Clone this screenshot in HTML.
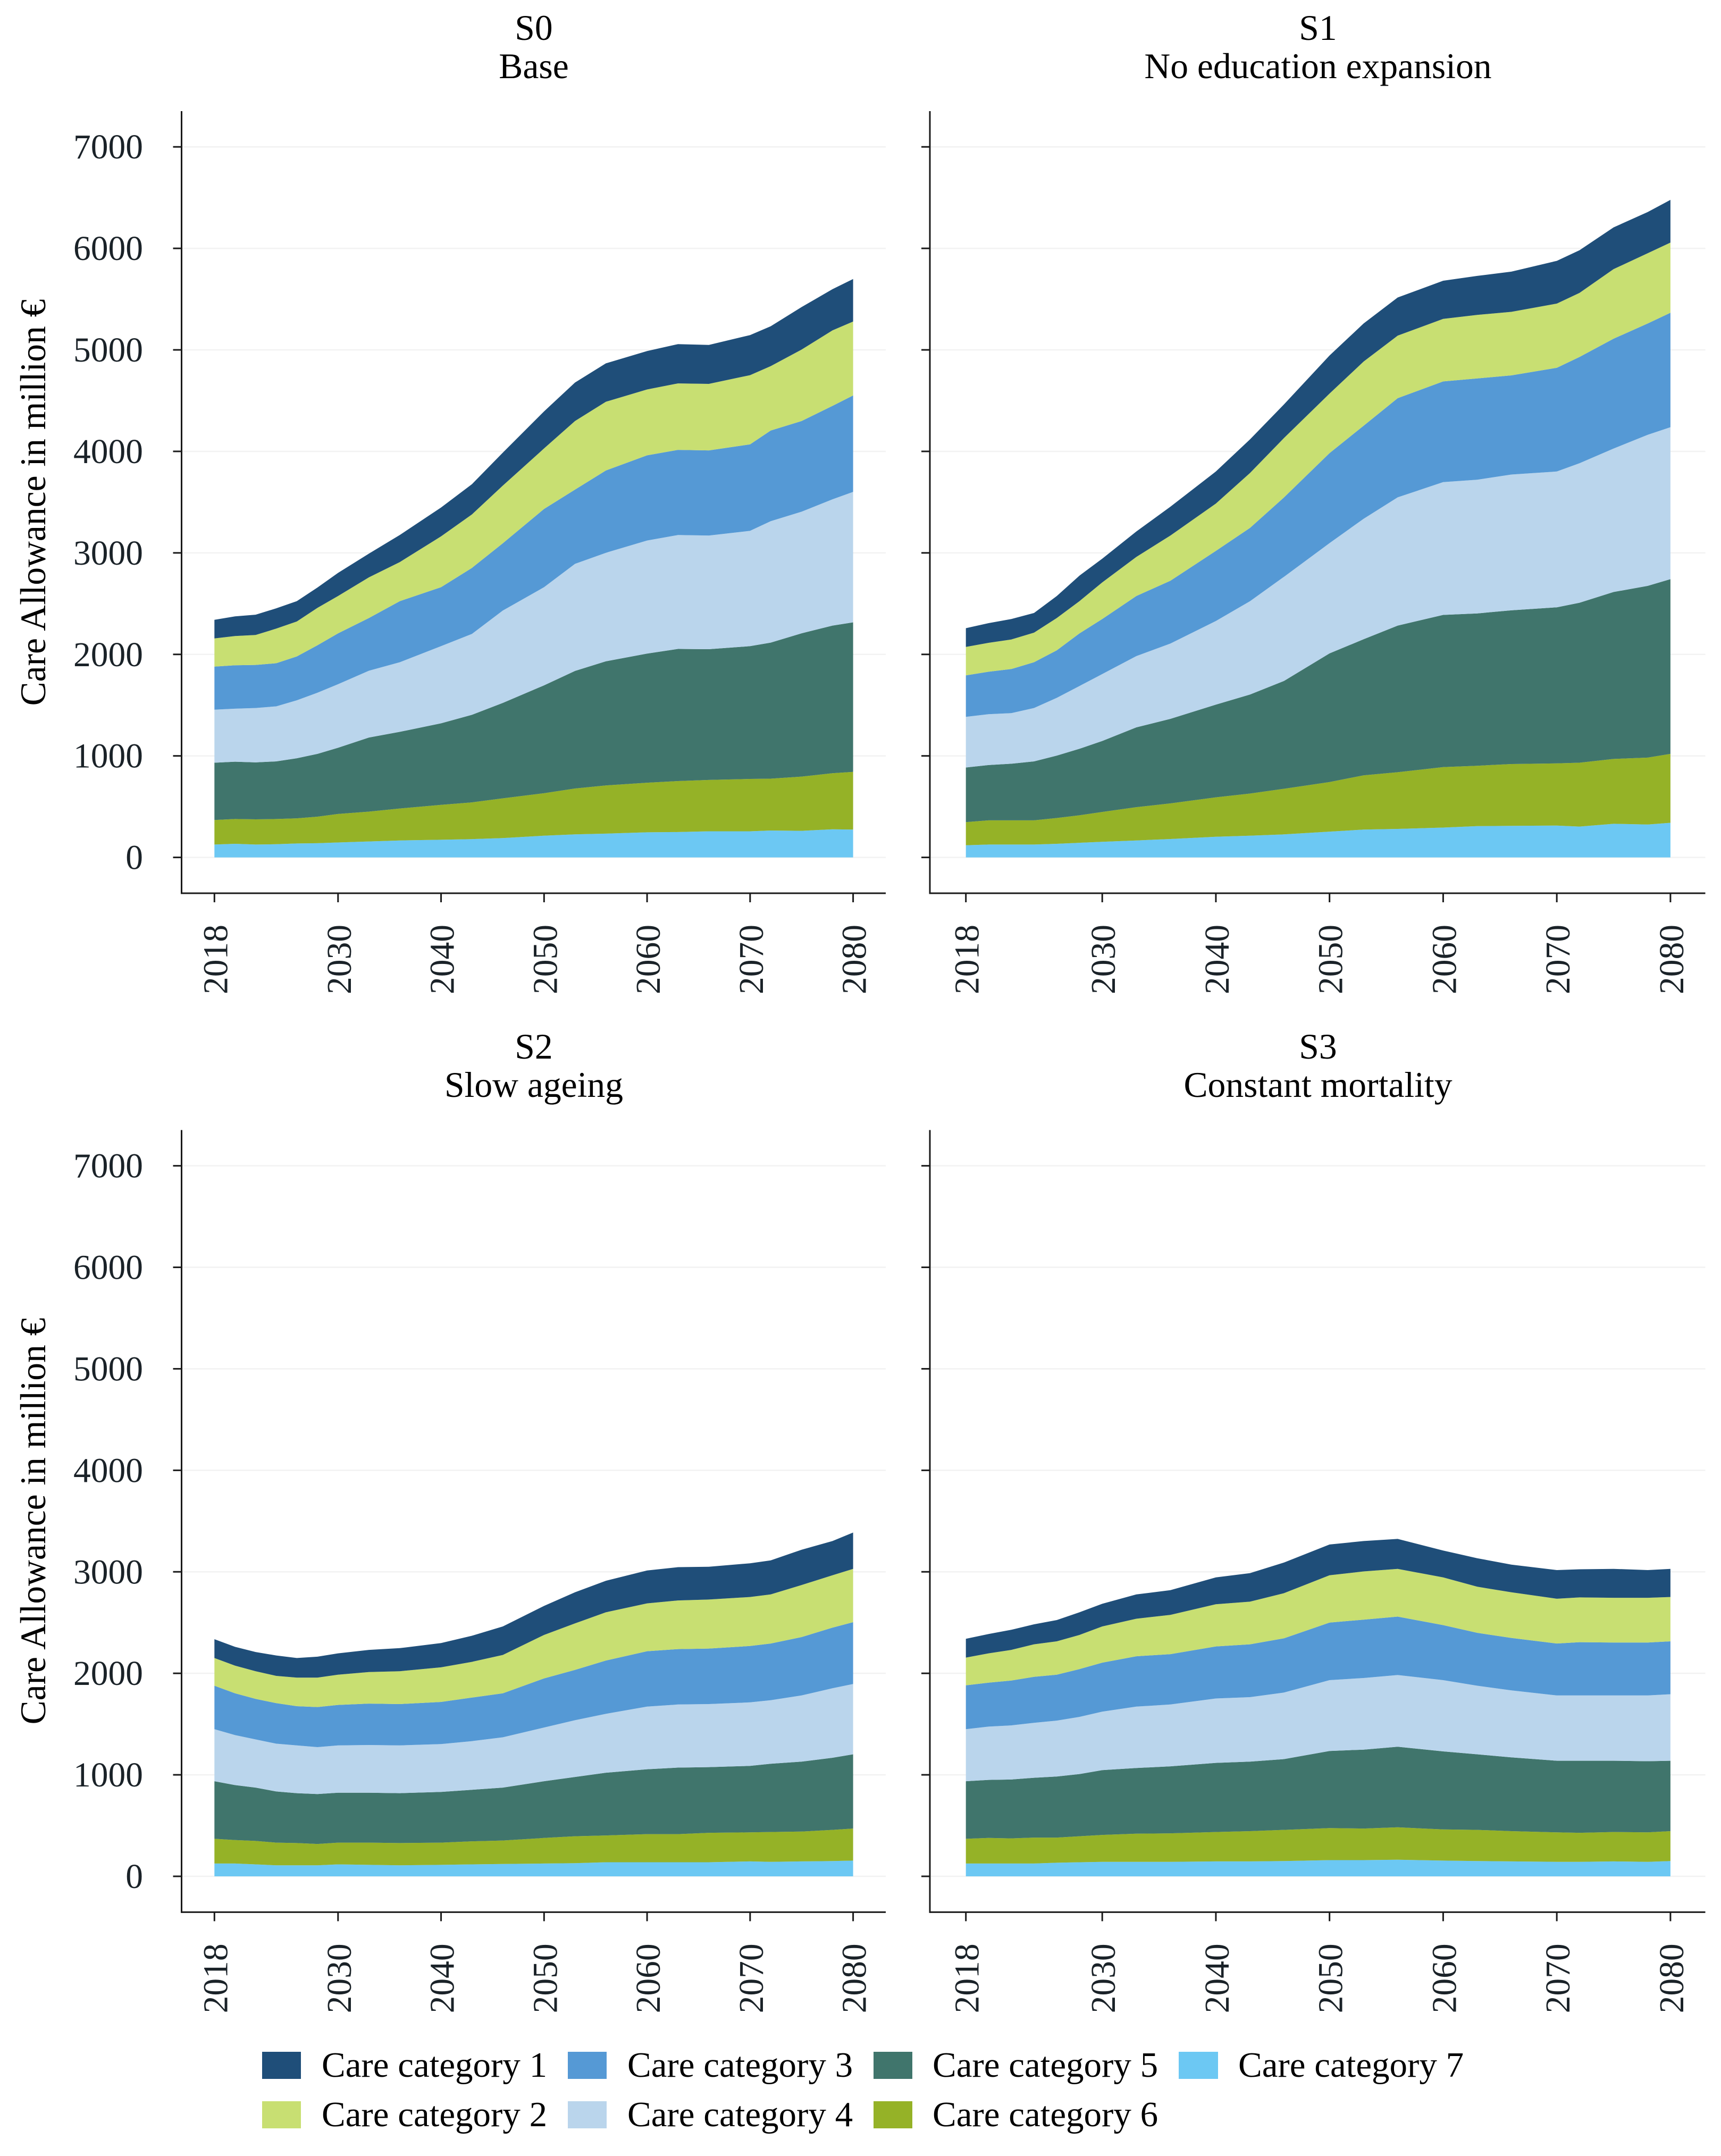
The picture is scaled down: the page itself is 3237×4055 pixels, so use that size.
<!DOCTYPE html>
<html lang="en">
<head>
<meta charset="utf-8">
<title>Care Allowance scenarios</title>
<style>
  html, body { margin: 0; padding: 0; background: #ffffff; }
  svg { display: block; font-family: "Liberation Serif", serif; }
  .title { font-size: 67.6px; fill: #000000; text-anchor: middle; }
  .ytitle { font-size: 67.5px; fill: #000000; text-anchor: middle; }
  .legend-label { font-size: 67px; fill: #000000; }
  .tick-label { font-size: 65.5px; fill: #1a2228; }
</style>
</head>
<body>
<svg id="chart" xmlns="http://www.w3.org/2000/svg" width="3237" height="4055" viewBox="0 0 3237 4055">
  <rect x="0" y="0" width="3237" height="4055" fill="#ffffff"/>

  <g>
    <text class="title" x="1004" y="75">S0</text>
    <text class="title" x="1004" y="147">Base</text>
    <text class="title" x="2479" y="75">S1</text>
    <text class="title" x="2479" y="147">No education expansion</text>
    <text class="title" x="1004" y="1991">S2</text>
    <text class="title" x="1004" y="2063">Slow ageing</text>
    <text class="title" x="2479" y="1991">S3</text>
    <text class="title" x="2479" y="2063">Constant mortality</text>
  </g>

  <text class="ytitle" transform="translate(85,945) rotate(-90)">Care Allowance in million €</text>
  <text class="ytitle" transform="translate(85,2861) rotate(-90)">Care Allowance in million €</text>

  <g id="panels"></g>

  <g>
    <g>
      <rect x="493" y="3859" width="73" height="51" fill="#1f4e79"/>
      <text class="legend-label" x="605" y="3906">Care category 1</text>
    </g>
    <g>
      <rect x="493" y="3952" width="73" height="51" fill="#c8df72"/>
      <text class="legend-label" x="605" y="3999">Care category 2</text>
    </g>
    <g>
      <rect x="1068" y="3859" width="73" height="51" fill="#5599d5"/>
      <text class="legend-label" x="1180" y="3906">Care category 3</text>
    </g>
    <g>
      <rect x="1068" y="3952" width="73" height="51" fill="#bad5ec"/>
      <text class="legend-label" x="1180" y="3999">Care category 4</text>
    </g>
    <g>
      <rect x="1643" y="3859" width="73" height="51" fill="#40756c"/>
      <text class="legend-label" x="1754" y="3906">Care category 5</text>
    </g>
    <g>
      <rect x="1643" y="3952" width="73" height="51" fill="#95b227"/>
      <text class="legend-label" x="1754" y="3999">Care category 6</text>
    </g>
    <g>
      <rect x="2217" y="3859" width="74" height="51" fill="#6cc8f3"/>
      <text class="legend-label" x="2329" y="3906">Care category 7</text>
    </g>
  </g>
</svg>

<script>
// ---- data (million euro per care category) ----
const years = [2018,2020,2022,2024,2026,2028,2030,2033,2036,2040,2043,2046,2050,2053,2056,2060,2063,2066,2070,2072,2075,2078,2080];
const xTickValues = [2018,2030,2040,2050,2060,2070,2080];
const yTickValues = [0,1000,2000,3000,4000,5000,6000,7000];

const s0Cat7 = [127,134,127,130,137,140,147,157,167,174,180,190,214,227,234,247,250,257,257,265,262,277,274];
const s0Cat6 = [241,244,248,248,248,261,281,294,315,344,362,392,418,452,475,489,502,506,516,511,534,552,569];
const s0Cat5 = [565,565,561,568,592,619,652,730,755,803,863,940,1063,1158,1223,1272,1302,1288,1308,1340,1412,1455,1473];
const s0Cat4 = [522,522,536,542,571,602,626,658,686,760,797,910,967,1055,1069,1114,1122,1120,1136,1196,1198,1244,1285];
const s0Cat3 = [425,428,424,425,432,468,501,519,602,581,650,663,771,731,811,839,839,839,852,893,893,920,950];
const s0Cat2 = [277,288,295,341,344,368,368,401,385,501,527,568,596,676,677,649,655,655,682,635,704,744,728];
const s0Cat1 = [184,194,200,200,201,201,228,234,267,284,298,325,365,379,378,379,387,384,395,393,419,406,419];

const s1Cat7 = [120,127,127,127,134,144,154,167,181,204,214,227,254,274,281,294,308,311,314,304,331,324,341];
const s1Cat6 = [228,238,238,238,254,271,294,328,351,388,415,449,488,535,558,596,595,609,612,629,639,659,679];
const s1Cat5 = [538,545,558,581,615,655,699,786,833,913,976,1063,1268,1340,1445,1499,1501,1514,1538,1576,1645,1692,1721];
const s1Cat4 = [499,501,498,526,569,619,659,702,742,824,919,1026,1086,1187,1263,1308,1317,1338,1338,1374,1413,1488,1497];
const s1Cat3 = [408,418,435,451,468,518,542,592,619,691,722,782,887,917,977,992,998,977,1022,1047,1082,1097,1128];
const s1Cat2 = [281,285,291,291,318,318,361,385,445,466,541,586,586,632,616,616,626,626,632,631,686,692,691];
const s1Cat1 = [184,194,201,194,217,251,234,251,284,316,331,331,376,375,376,376,384,396,421,421,411,406,421];

const s2Cat7 = [126,126,118,109,109,109,118,113,109,113,118,122,126,130,139,139,139,139,147,143,147,151,155];
const s2Cat6 = [244,231,231,223,219,210,214,219,219,219,227,231,252,265,264,277,277,290,286,294,294,307,316];
const s2Cat5 = [567,542,525,504,491,492,492,492,491,500,508,521,559,584,618,639,655,647,655,672,689,710,731];
const s2Cat4 = [513,492,475,471,471,462,466,470,471,471,479,496,529,559,580,617,622,621,626,626,652,685,693];
const s2Cat3 = [428,412,399,399,386,395,399,408,407,415,429,433,484,496,525,546,546,547,555,559,575,597,609];
const s2Cat2 = [273,273,273,269,282,290,298,311,324,341,352,378,428,458,475,471,479,483,483,483,513,516,525];
const s2Cat1 = [185,185,189,201,193,206,210,218,227,239,257,281,286,306,311,324,328,323,332,336,348,337,358];

const s3Cat7 = [126,126,126,126,134,139,143,143,143,147,147,151,160,160,164,155,151,147,143,143,147,143,151];
const s3Cat6 = [244,252,248,256,248,256,265,277,281,290,298,307,315,311,319,307,307,298,290,286,290,290,294];
const s3Cat5 = [567,572,580,589,601,613,638,647,660,681,685,697,760,777,794,769,744,727,706,710,702,701,694];
const s3Cat4 = [513,525,533,542,551,563,576,605,609,634,635,656,698,706,706,702,676,660,643,643,643,648,655];
const s3Cat3 = [432,433,442,453,453,471,483,496,496,513,521,534,567,575,576,542,521,517,512,525,521,521,521];
const s3Cat2 = [273,289,302,320,328,336,357,370,387,416,420,445,466,475,470,470,454,449,441,441,441,441,437];
const s3Cat1 = [185,190,198,197,210,223,223,239,243,264,281,302,303,299,295,265,281,273,282,277,285,273,277];

const categoryNames = ['care-category-7','care-category-6','care-category-5','care-category-4','care-category-3','care-category-2','care-category-1'];

// ---- rendering ----
const NS = 'http://www.w3.org/2000/svg';
const categoryColors = ['#6cc8f3','#95b227','#40756c','#bad5ec','#5599d5','#c8df72','#1f4e79'];
const panelsRoot = document.getElementById('panels');

function make(tag, attrs, parent) {
  const el = document.createElementNS(NS, tag);
  for (const k in attrs) el.setAttribute(k, attrs[k]);
  parent.appendChild(el);
  return el;
}

function drawPanel(id, series, geo, showYLabels) {
  const g = make('g', {}, panelsRoot);
  
  

  const xScale = yr => geo.x2018 + (yr - 2018) * (geo.x2080 - geo.x2018) / 62;
  const yScale = v => geo.y0 - v * 0.19091;

  // horizontal gridlines
  yTickValues.forEach(v => {
    const grid = make('line', {x1: geo.left, x2: geo.right, y1: yScale(v), y2: yScale(v), stroke: '#f2f2f2', 'stroke-width': 2.5}, g);
    
    
  });

  // stacked areas, bottom to top
  let base = years.map(() => 0);
  series.forEach((vals, i) => {
    const top = vals.map((v, j) => base[j] + v);
    const upper = years.map((yr, j) => xScale(yr).toFixed(1) + ',' + yScale(top[j]).toFixed(1));
    const lower = years.map((yr, j) => xScale(yr).toFixed(1) + ',' + yScale(base[j]).toFixed(1)).reverse();
    const area = make('path', {d: 'M' + upper.join('L') + 'L' + lower.join('L') + 'Z', fill: categoryColors[i]}, g);
    
    
    base = top;
  });

  // axis lines
  const yAxis = make('line', {x1: geo.left, x2: geo.left, y1: geo.top, y2: geo.bottom + 1.5, stroke: '#1a1a1a', 'stroke-width': 3}, g);
  
  
  const xAxis = make('line', {x1: geo.left, x2: geo.right, y1: geo.bottom, y2: geo.bottom, stroke: '#1a1a1a', 'stroke-width': 3}, g);
  
  

  // y ticks
  yTickValues.forEach(v => {
    const tick = make('line', {x1: geo.left - 16, x2: geo.left, y1: yScale(v), y2: yScale(v), stroke: '#1a1a1a', 'stroke-width': 3}, g);
    
    
    if (showYLabels) {
      const label = make('text', {class: 'tick-label', x: 269, y: yScale(v) + 22, 'text-anchor': 'end'}, g);
      label.textContent = String(v);
      
      
    }
  });

  // x ticks
  xTickValues.forEach(yr => {
    const tick = make('line', {x1: xScale(yr), x2: xScale(yr), y1: geo.bottom, y2: geo.bottom + 17, stroke: '#1a1a1a', 'stroke-width': 3}, g);
    
    
    const lx = xScale(yr) + 24;
    const ly = geo.bottom + 59;
    const label = make('text', {class: 'tick-label', transform: 'translate(' + lx + ',' + ly + ') rotate(-90)', 'text-anchor': 'end'}, g);
    label.textContent = String(yr);
    
    
  });
}

const leftGeo = {left: 341.5, right: 1666, x2018: 403.3, x2080: 1604.6};
const rightGeo = {left: 1749, right: 3207.5, x2018: 1816.7, x2080: 3141.9};
const topRow = {top: 209, bottom: 1680, y0: 1612.6};
const bottomRow = {top: 2125.4, bottom: 3596.4, y0: 3529};

drawPanel('s0', [s0Cat7,s0Cat6,s0Cat5,s0Cat4,s0Cat3,s0Cat2,s0Cat1], Object.assign({}, leftGeo, topRow), true);
drawPanel('s1', [s1Cat7,s1Cat6,s1Cat5,s1Cat4,s1Cat3,s1Cat2,s1Cat1], Object.assign({}, rightGeo, topRow), false);
drawPanel('s2', [s2Cat7,s2Cat6,s2Cat5,s2Cat4,s2Cat3,s2Cat2,s2Cat1], Object.assign({}, leftGeo, bottomRow), true);
drawPanel('s3', [s3Cat7,s3Cat6,s3Cat5,s3Cat4,s3Cat3,s3Cat2,s3Cat1], Object.assign({}, rightGeo, bottomRow), false);
</script>
</body>
</html>
